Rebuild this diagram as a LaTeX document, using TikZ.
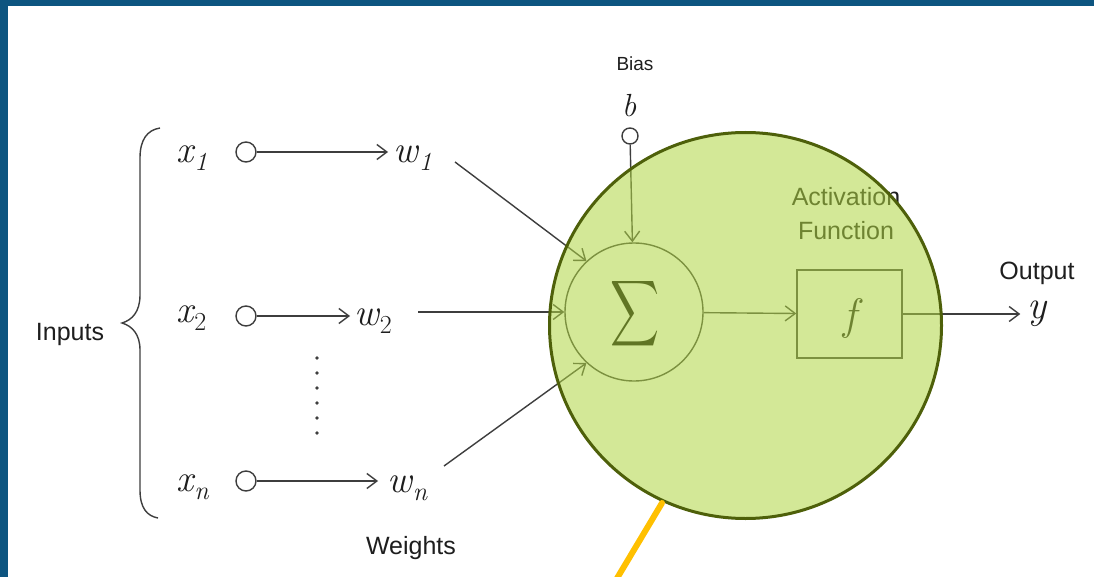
\documentclass[tikz,border=0pt]{standalone}
\usepackage{fontspec}
\usepackage{graphicx}
\setmainfont{Liberation Sans}
\newfontfamily\lmrom{Latin Modern Roman}
% variable with subscript: #1 letter, #2 subscript (already styled)
\newcommand{\mvar}[2]{{\lmrom\itshape #1}\kern1pt\raisebox{-8pt}{\fontsize{26}{28}\selectfont\lmrom #2}}
\usetikzlibrary{arrows.meta}
\definecolor{frameblue}{RGB}{13,85,128}
\definecolor{ln}{RGB}{62,62,62}
\definecolor{txt}{RGB}{30,30,30}
\definecolor{hlfill}{RGB}{176,214,66}
\definecolor{hledge}{RGB}{78,96,10}
\definecolor{hlyellow}{RGB}{255,192,0}
\tikzset{
  lbl/.style={font=\fontsize{25}{34}\selectfont, text=txt, inner sep=0},
  mth/.style={font=\fontsize{38}{40}\selectfont, text=txt, inner sep=0},
  port/.style={circle, draw=ln, line width=1.4pt, minimum size=20pt, inner sep=0},
  conn/.style={draw=ln, line width=1.4pt, -{Straight Barb[length=10pt,width=15pt]}},
  plain/.style={draw=ln, line width=1.4pt},
}
\begin{document}
\begin{tikzpicture}[x=1pt,y=-1pt]
\useasboundingbox (0,0) rectangle (1094,577);
\fill[white] (0,0) rectangle (1094,577);
\fill[frameblue] (0,0) rectangle (1094,6);
\fill[frameblue] (0,0) rectangle (8,577);

% inputs brace and label
\node[lbl] (inputs) at (70,334) {Inputs};
\draw[plain] (160,128) .. controls (147,130) and (140,140) .. (140,158) -- (140,295)
  .. controls (140,312) and (132,320) .. (122,323)
  .. controls (132,326) and (140,334) .. (140,350) -- (140,490)
  .. controls (140,508) and (147,516) .. (158,518);

% rows
\node[mth, anchor=base west] (x1) at (176,163) {\mvar{x}{\itshape 1}};
\node[port] (c1) at (246,152) {};
\node[mth, anchor=base west] (w1) at (393,163) {\mvar{w}{\itshape 1}};
\draw[conn, shorten >=5pt] (c1) -- (c1 -| w1.west);

\node[mth, anchor=base west] (x2) at (176,322) {\mvar{x}{2}};
\node[port] (c2) at (246,316) {};
\node[mth, anchor=base west] (w2) at (354,325) {\mvar{w}{2}};
\draw[conn, shorten >=4pt] (c2) -- (c2 -| w2.west);

\node[mth, anchor=base west] (xn) at (176,491) {\mvar{x}{\itshape n}};
\node[port] (cn) at (246,481) {};
\node[mth, anchor=base west] (wn) at (387,492) {\mvar{w}{\itshape n}};
\draw[conn, shorten >=9pt] (cn) -- (cn -| wn.west);

\foreach \yy in {358,373,388,403,418,433} \fill[ln] (317,\yy) circle (1.8);

\node[lbl] (weights) at (411,548) {Weights};

% summation node
\node[circle, draw=ln, line width=1.4pt, minimum size=138pt, inner sep=0] (sig) at (634,312) {};
\node (sigma) at (635,314) {\scalebox{3.4}[4.6]{$\displaystyle\sum$}};

\coordinate (l1) at (455,162);
\coordinate (l2) at (418,312);
\coordinate (ln3) at (444,466);
\draw[conn] (l1) -- (sig.133);
\draw[conn] (l2) -- (sig.west);
\draw[conn] (ln3) -- (sig.227);

% bias
\node[lbl, font=\fontsize{19}{22}\selectfont] (bias) at (635,64) {Bias};
\node[font=\fontsize{32}{34}\selectfont\lmrom\itshape, text=txt, inner sep=0] (b) at (629,106) {b};
\node[port, minimum size=16pt] (bc) at (630,136) {};
\draw[conn] (bc) -- (sig);

% activation
\node[lbl, align=center] (act) at (846,214) {Activation\\Function};
\node[draw=ln, line width=1.4pt, minimum width=105pt, minimum height=88pt, inner sep=0] (fbox) at (849.5,314) {};
\node[font=\fontsize{44}{46}\selectfont\lmrom\itshape, text=txt, inner sep=0] (f) at (850,318) {f};
\draw[conn] (sig) -- (fbox);

% output
\node[lbl] (output) at (1037,273) {Output};
\node[font=\fontsize{40}{42}\selectfont\lmrom\itshape, text=txt, inner sep=0] (y) at (1037,314) {y};
\draw[conn, shorten >=7pt] (fbox) -- (fbox.east -| y.west);

% highlight overlay
\draw[hledge, line width=3pt, fill=hlfill, fill opacity=0.55] (745.5,325.5) ellipse (196 and 193);
\coordinate (ya) at (662,503);
\coordinate (yb) at (616,580);
\draw[hlyellow, line width=6pt, line cap=round] (ya) -- (yb);
\end{tikzpicture}
\end{document}
